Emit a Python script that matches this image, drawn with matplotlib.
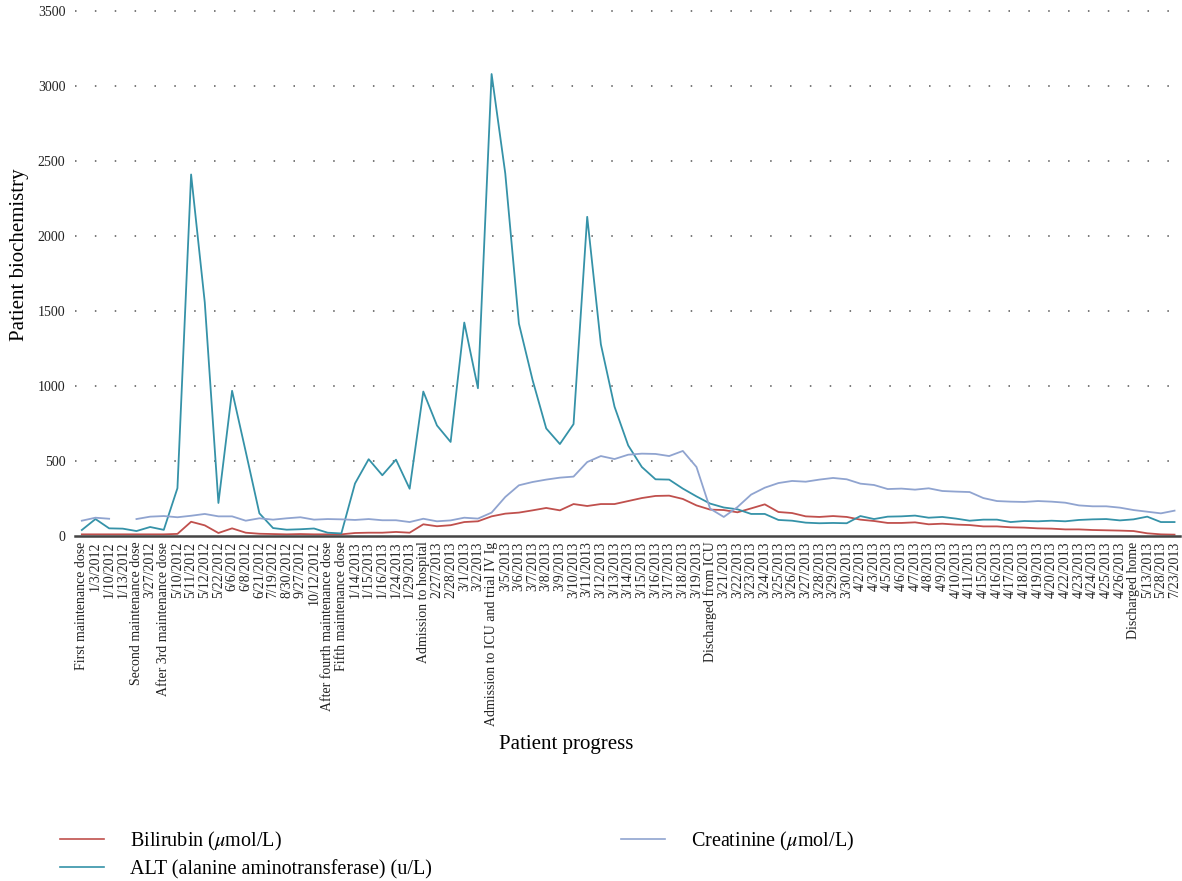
import numpy as np
import matplotlib
matplotlib.use("Agg")
import matplotlib.pyplot as plt
from matplotlib.lines import Line2D

plt.rcParams['font.family'] = ['Liberation Serif', 'DejaVu Serif']
plt.rcParams['mathtext.fontset'] = 'stix'

# x-axis categories (patient progress)
categories = [
    "First maintenance dose", "1/3/2012", "1/10/2012", "1/13/2012",
    "Second maintenance dose", "3/27/2012", "After 3rd maintenance dose",
    "5/10/2012", "5/11/2012", "5/12/2012", "5/22/2012", "6/6/2012", "6/8/2012",
    "6/21/2012", "7/19/2012", "8/30/2012", "9/27/2012", "10/12/2012",
    "After fourth maintenance dose", "Fifth maintenance dose",
    "1/14/2013", "1/15/2013", "1/16/2013", "1/24/2013", "1/29/2013",
    "Admission to hospital", "2/27/2013", "2/28/2013", "3/1/2013", "3/2/2013",
    "Admission to ICU and trial IV Ig", "3/5/2013", "3/6/2013", "3/7/2013",
    "3/8/2013", "3/9/2013", "3/10/2013", "3/11/2013", "3/12/2013", "3/13/2013",
    "3/14/2013", "3/15/2013", "3/16/2013", "3/17/2013", "3/18/2013", "3/19/2013",
    "Discharged from ICU", "3/21/2013", "3/22/2013", "3/23/2013", "3/24/2013",
    "3/25/2013", "3/26/2013", "3/27/2013", "3/28/2013", "3/29/2013", "3/30/2013",
    "4/2/2013", "4/3/2013", "4/5/2013", "4/6/2013", "4/7/2013", "4/8/2013",
    "4/9/2013", "4/10/2013", "4/11/2013", "4/15/2013", "4/16/2013", "4/17/2013",
    "4/18/2013", "4/19/2013", "4/20/2013", "4/22/2013", "4/23/2013", "4/24/2013",
    "4/25/2013", "4/26/2013", "Discharged home", "5/13/2013", "5/28/2013",
    "7/23/2013",
]

bilirubin = [
    11, 11, 11, 11, 11, 11, 11, 14, 95, 71, 20, 51, 22, 15, 13, 11, 13, 11, 11, 11,
    20, 22, 22, 27, 22, 78, 65, 72, 93, 98, 131, 149, 156, 171, 187, 171, 213, 200,
    213, 213, 233, 253, 267, 269, 247, 204, 176, 173, 158, 184, 211, 160, 153, 131,
    127, 133, 127, 109, 100, 87, 87, 91, 78, 82, 76, 73, 64, 64, 58, 56, 51, 49,
    44, 44, 40, 38, 36, 33, 18, 11, 9,
]

alt = [
    40, 113, 51, 49, 33, 60, 41, 319, 2410, 1558, 220, 968, 562, 151, 53, 42, 45,
    50, 22, 17, 350, 512, 405, 509, 315, 963, 737, 627, 1423, 985, 3080, 2418,
    1416, 1040, 717, 613, 746, 2128, 1278, 862, 604, 460, 378, 376, 316, 264, 216,
    190, 178, 147, 147, 107, 102, 89, 85, 87, 85, 133, 113, 129, 131, 136, 122,
    127, 116, 102, 109, 109, 93, 100, 98, 102, 98, 107, 111, 113, 104, 111, 129,
    93, 93,
]

creatinine = [
    102, 122, 115, np.nan, 113, 129, 133, 125, 135, 147, 131, 131, 102, 118, 109,
    118, 125, 109, 113, 111, 107, 113, 105, 105, 93, 115, 98, 104, 122, 116, 156,
    260, 338, 360, 376, 389, 396, 493, 533, 513, 542, 549, 547, 533, 567, 460, 182,
    127, 193, 276, 322, 353, 367, 362, 376, 387, 378, 349, 340, 313, 316, 309, 318,
    300, 296, 293, 253, 233, 229, 227, 233, 229, 222, 204, 198, 198, 189, 173, 162,
    151, 169,
]

yticks = [0, 500, 1000, 1500, 2000, 2500, 3000, 3500]

c_bili = "#c0504d"
c_alt = "#3592a8"
c_crea = "#90a4d0"

W, H = 1182, 881
fig = plt.figure(figsize=(W / 100, H / 100), dpi=100)
ax = fig.add_axes([75 / W, 1 - 536 / H, 1105 / W, 525 / H])

x = np.arange(len(categories))
ax.plot(x, bilirubin, color=c_bili, lw=1.3)
ax.plot(x, alt, color=c_alt, lw=1.3)
ax.plot(x, creatinine, color=c_crea, lw=1.3)

ax.set_xlim(-0.5, len(categories) - 0.6)
ax.set_ylim(0, 3500)
ax.set_yticks(yticks)
ax.set_xticks(x)
ax.set_xticklabels(categories, rotation=90, fontsize=10)
ax.tick_params(axis='both', length=0, labelsize=10, colors="#222222")
ax.tick_params(axis='x', pad=4)
ax.tick_params(axis='y', pad=7)

# dotted horizontal gridlines
for v in yticks[1:]:
    ax.axhline(v, color="#555555", lw=1.1, linestyle=(0, (1, 12)), clip_on=False, zorder=0)

for s in ["top", "right", "left"]:
    ax.spines[s].set_visible(False)
ax.spines["bottom"].set_color("#444444")
ax.spines["bottom"].set_linewidth(1.8)

fig.text(20 / W, 1 - 255 / H, "Patient biochemistry", rotation=90, fontsize=15,
         ha="center", va="center")
fig.text(566 / W, 1 - 745 / H, "Patient progress", fontsize=15, ha="center", va="center")

h_bili = Line2D([], [], color=c_bili, lw=1.2)
h_alt = Line2D([], [], color=c_alt, lw=1.2)
h_crea = Line2D([], [], color=c_crea, lw=1.2)
leg_kw = dict(frameon=False, fontsize=14.5, handlelength=2.2, handletextpad=1.3,
              labelspacing=0.35, borderaxespad=0, borderpad=0, loc="upper left")
fig.legend([h_bili, h_alt], [r"Bilirubin ($\mu$mol/L)", "ALT (alanine aminotransferase) (u/L)"],
           bbox_to_anchor=(60 / W, 1 - 830 / H), **leg_kw)
fig.legend([h_crea], [r"Creatinine ($\mu$mol/L)"],
           bbox_to_anchor=(621 / W, 1 - 830 / H), **leg_kw)

fig.savefig("out.png", dpi=100)
